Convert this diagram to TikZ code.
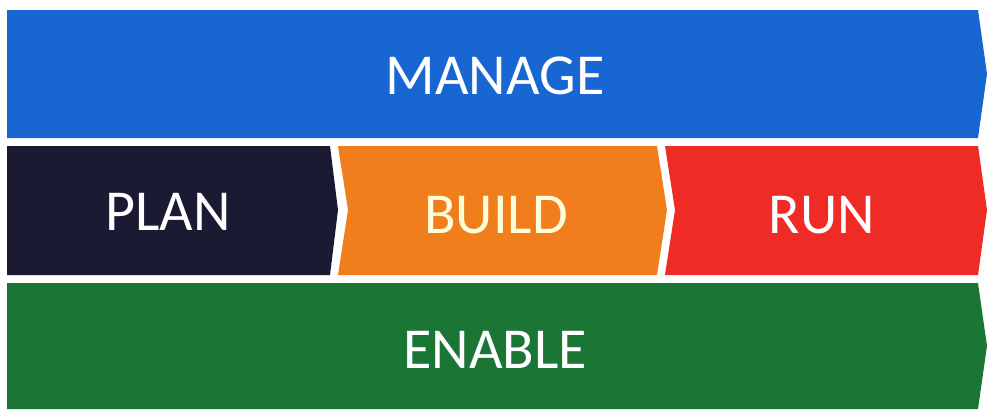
\documentclass[tikz,border=0pt]{standalone}
\usepackage{fontspec}
\setmainfont{Carlito}
\definecolor{manageblue}{HTML}{1766D2}
\definecolor{plannavy}{HTML}{1B1A33}
\definecolor{buildorange}{HTML}{F07E1C}
\definecolor{runred}{HTML}{EE2B24}
\definecolor{enablegreen}{HTML}{1B7535}
\tikzset{
    label/.style={text=white, font=\fontsize{33}{38}\selectfont},
    buildlabel/.style={text=yellow!15, font=\fontsize{33}{38}\selectfont}
}
\begin{document}
\begin{tikzpicture}[x=0.02cm, y=-0.02cm]
            \useasboundingbox (0, 0) rectangle (987, 409);
            \fill [manageblue] (7, 10) -- (978, 10) -- (987, 74) -- (978, 138) -- (7, 138) -- cycle;
            \fill [plannavy] (7, 146) -- (330, 146) -- (338, 210) -- (330, 275) -- (7, 275) -- cycle;
            \fill [buildorange] (338, 146) -- (657, 146) -- (667, 210) -- (657, 275) -- (338, 275) -- (348, 210) -- cycle;
            \fill [runred] (665, 146) -- (978, 146) -- (987, 210) -- (978, 275) -- (665, 275) -- (675, 210) -- cycle;
            \fill [enablegreen] (7, 283) -- (978, 283) -- (987, 346) -- (978, 409) -- (7, 409) -- cycle;
            \node [label] (manage) at (495, 76) {MANAGE};
            \node [label] (plan) at (168, 212) {PLAN};
            \node [buildlabel] (build) at (496, 215) {BUILD};
            \node [label] (run) at (822, 215) {RUN};
            \node [label] (enable) at (495, 350) {ENABLE};
        \end{tikzpicture}
\end{document}
